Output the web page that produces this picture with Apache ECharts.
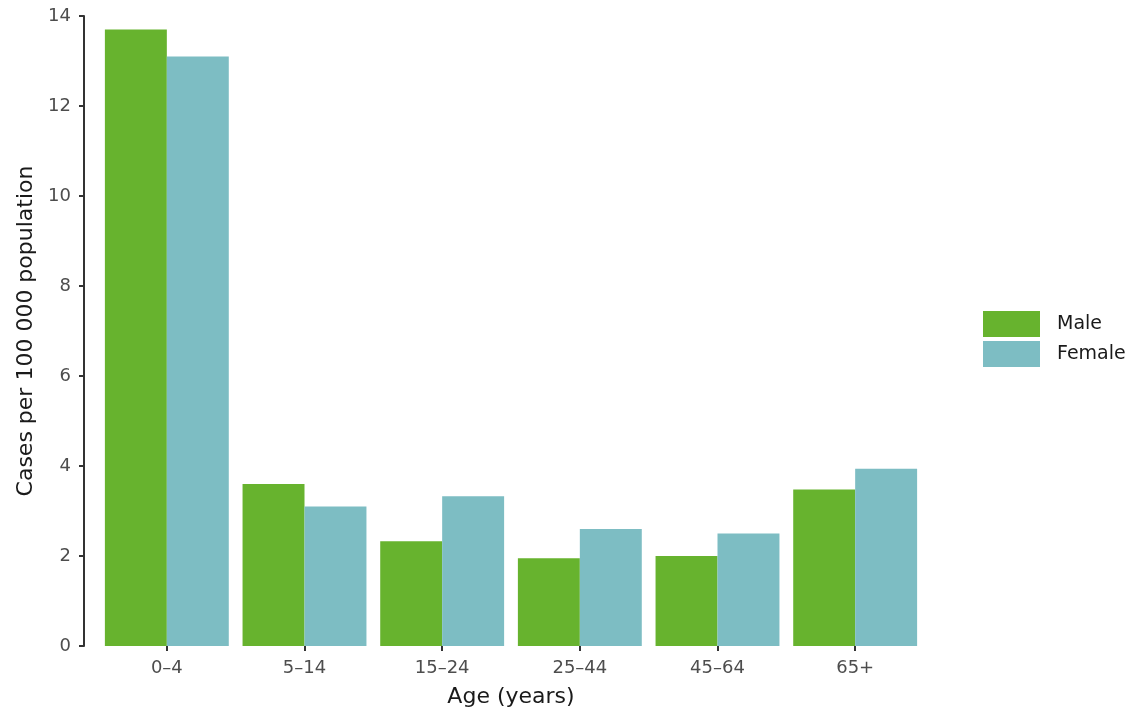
<!DOCTYPE html>
<html><head><meta charset="utf-8">
<script src="https://cdn.jsdelivr.net/npm/echarts@6/dist/echarts.min.js"></script>
<style>html,body{margin:0;padding:0;background:#fff}#c{width:1131px;height:709px}</style>
</head><body><div id="c"></div>
<script>
const categories = ['0–4','5–14','15–24','25–44','45–64','65+'];
const male = [13.7, 3.6, 2.33, 1.95, 2.0, 3.48];
const female = [13.1, 3.1, 3.33, 2.6, 2.5, 3.94];
const yTicks = [0, 2, 4, 6, 8, 10, 12, 14];

const chart = echarts.init(document.getElementById('c'));
const font = 'DejaVu Sans, sans-serif';
chart.setOption({
  animation: false,
  textStyle: { fontFamily: font },
  grid: { left: 98, right: 207, top: 16, bottom: 63, containLabel: false, outerBoundsMode: 'none' },
  legend: {
    orient: 'vertical', left: 983, top: 311, padding: 0,
    itemWidth: 57, itemHeight: 26, itemGap: 4,
    icon: 'rect',
    textStyle: { fontSize: 19, color: '#1a1a1a', fontFamily: font, padding: [0,0,0,12] },
    data: ['Male', 'Female']
  },
  xAxis: {
    type: 'category', data: categories,
    name: 'Age (years)', nameLocation: 'middle', nameGap: 40,
    nameTextStyle: { fontSize: 22, color: '#1a1a1a', fontFamily: font },
    axisLine: { show: false },
    axisTick: { show: true, alignWithLabel: true, length: 5, lineStyle: { color: '#333', width: 2 } },
    axisLabel: { fontSize: 18, color: '#4d4d4d', margin: 13, fontFamily: font }
  },
  yAxis: {
    type: 'value', min: 0, max: 14, interval: 2, offset: 14,
    name: 'Cases per 100 000 population', nameLocation: 'middle', nameGap: 40,
    nameTextStyle: { fontSize: 22, color: '#1a1a1a', fontFamily: font },
    axisLine: { show: true, lineStyle: { color: '#333', width: 2 } },
    axisTick: { show: true, length: 5, lineStyle: { color: '#333', width: 2 } },
    axisLabel: { fontSize: 18, color: '#4d4d4d', margin: 13, fontFamily: font,
      formatter: v => yTicks.includes(v) ? String(v) : '' },
    splitLine: { show: false }
  },
  series: [
    { name: 'Male', type: 'bar', data: male, barGap: '0%', barCategoryGap: '10%',
      itemStyle: { color: '#67b32e' } },
    { name: 'Female', type: 'bar', data: female, barGap: '0%', barCategoryGap: '10%',
      itemStyle: { color: '#7dbdc3' } }
  ]
});
</script></body></html>
